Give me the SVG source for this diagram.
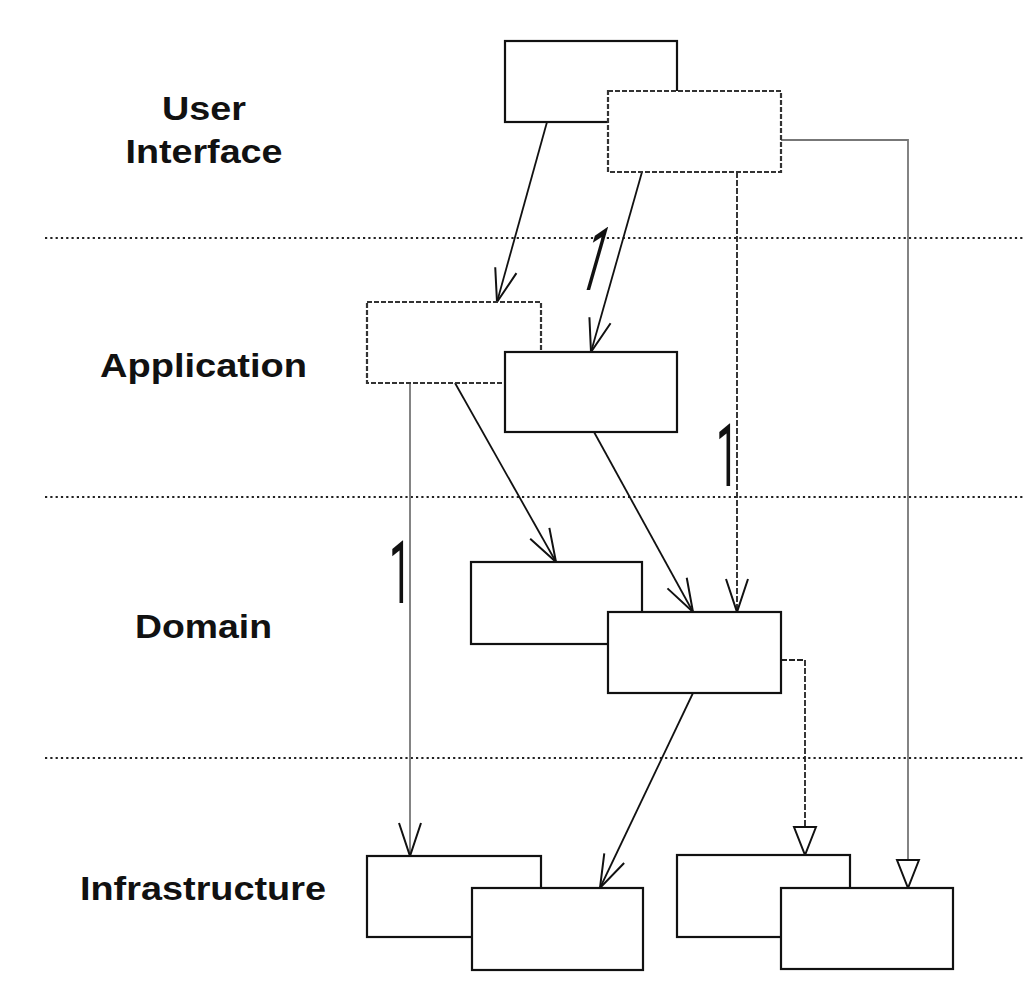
<svg xmlns="http://www.w3.org/2000/svg" width="1024" height="1000" viewBox="0 0 1024 1000">
<style>
.bg{fill:#ffffff}
.box{fill:#ffffff;stroke:#111;stroke-width:2.2}
.dbox{fill:#ffffff;stroke:#333;stroke-width:2.2;stroke-dasharray:5 2}
.sep{stroke:#222;stroke-width:2.2;stroke-dasharray:2.2 3.1;fill:none}
.lbl{font-family:"Liberation Sans",Arial,sans-serif;font-weight:bold;font-size:33px;fill:#111;text-anchor:middle}
.one{font-family:Roboto,"Liberation Sans",sans-serif;font-weight:400;font-size:88px;fill:#111}
.ln{stroke:#111;stroke-width:1.8;fill:none}
.dl{stroke:#222;stroke-width:1.8;fill:none;stroke-dasharray:6 2}
.gl{stroke:#777;stroke-width:1.8;fill:none}
</style>
<defs>
<marker id="open" viewBox="-36 -14 40 28" refX="0" refY="0" markerWidth="40" markerHeight="28" markerUnits="userSpaceOnUse" orient="auto">
<path d="M-33,-11 L0,0 L-33,11" fill="none" stroke="#111" stroke-width="2"/>
</marker>
<marker id="tri" viewBox="-32 -14 36 28" refX="0" refY="0" markerWidth="36" markerHeight="28" markerUnits="userSpaceOnUse" orient="auto">
<path d="M-28,-11 L0,0 L-28,11 Z" fill="#fff" stroke="#111" stroke-width="2"/>
</marker>
</defs>
<rect class="bg" x="0" y="0" width="1024" height="1000"/>

<g id="separators">
<line class="sep" x1="45" y1="238" x2="1024" y2="238"/>
<line class="sep" x1="45" y1="497" x2="1024" y2="497"/>
<line class="sep" x1="45" y1="758" x2="1024" y2="758"/>
</g>

<g id="layer-labels">
<text class="lbl" x="204" y="120" textLength="84" lengthAdjust="spacingAndGlyphs">User</text>
<text class="lbl" x="204" y="163" textLength="157" lengthAdjust="spacingAndGlyphs">Interface</text>
<text class="lbl" x="203.5" y="377" textLength="207" lengthAdjust="spacingAndGlyphs">Application</text>
<text class="lbl" x="203.5" y="638" textLength="137" lengthAdjust="spacingAndGlyphs">Domain</text>
<text class="lbl" x="203" y="900" textLength="246" lengthAdjust="spacingAndGlyphs">Infrastructure</text>
</g>

<g id="connectors">
<line class="ln" x1="547" y1="122" x2="497" y2="302" marker-end="url(#open)"/>
<line class="ln" x1="642" y1="172" x2="591" y2="352" marker-end="url(#open)"/>
<line class="dl" x1="737" y1="172" x2="737" y2="612" marker-end="url(#open)"/>
<polyline class="gl" points="781,140 908,140 908,888" marker-end="url(#tri)"/>
<line class="ln" x1="455" y1="383" x2="556" y2="562" marker-end="url(#open)"/>
<line class="ln" x1="594" y1="432" x2="693" y2="612" marker-end="url(#open)"/>
<line class="gl" x1="410" y1="383" x2="410" y2="856" marker-end="url(#open)"/>
<line class="ln" x1="693" y1="693" x2="600" y2="888" marker-end="url(#open)"/>
<polyline class="dl" points="781,660 805,660 805,855" marker-end="url(#tri)"/>
</g>

<g id="multiplicities">
<text class="one" transform="translate(576,290) skewX(-16) scale(0.45,1)">1</text>
<text class="one" transform="translate(716,486) scale(0.45,1)">1</text>
<text class="one" transform="translate(389,603) scale(0.45,1)">1</text>
</g>

<g id="ui-1"><rect class="box" x="505" y="41" width="172" height="81"/></g>
<g id="ui-2"><rect class="dbox" x="608" y="91" width="173" height="81"/></g>
<g id="app-1"><rect class="dbox" x="367" y="302" width="174" height="81"/></g>
<g id="app-2"><rect class="box" x="505" y="352" width="172" height="80"/></g>
<g id="domain-1"><rect class="box" x="471" y="562" width="171" height="82"/></g>
<g id="domain-2"><rect class="box" x="608" y="612" width="173" height="81"/></g>
<g id="infra-1"><rect class="box" x="367" y="856" width="174" height="81"/></g>
<g id="infra-2"><rect class="box" x="472" y="888" width="171" height="82"/></g>
<g id="infra-3"><rect class="box" x="677" y="855" width="173" height="82"/></g>
<g id="infra-4"><rect class="box" x="781" y="888" width="172" height="81"/></g>
</svg>
